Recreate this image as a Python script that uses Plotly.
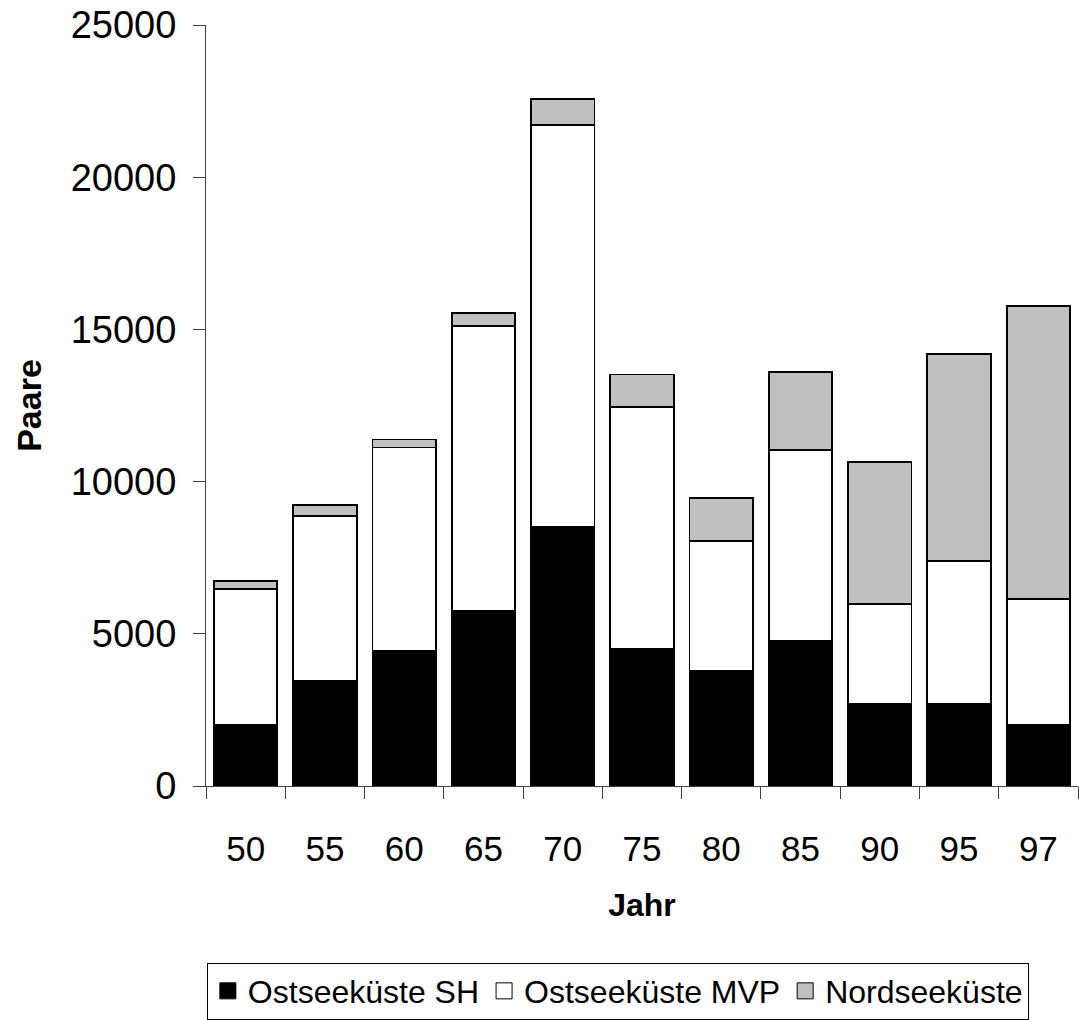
import plotly.graph_objects as go

years = ["50", "55", "60", "65", "70", "75", "80", "85", "90", "95", "97"]
ostsee_sh = [2000, 3450, 4430, 5760, 8510, 4520, 3780, 4760, 2690, 2690, 2010]
ostsee_mvp = [4470, 5420, 6690, 9350, 13210, 7930, 4280, 6280, 3280, 4700, 4130]
nordsee = [260, 350, 260, 430, 850, 1070, 1400, 2570, 4670, 6800, 9630]

series_names = ["Ostseeküste SH", "Ostseeküste MVP", "Nordseeküste"]
series_colors = ["#000000", "#FFFFFF", "#C0C0C0"]
series_values = [ostsee_sh, ostsee_mvp, nordsee]

FONT = "Liberation Sans, Arial, sans-serif"

fig = go.Figure()
for name, color, vals in zip(series_names, series_colors, series_values):
    fig.add_trace(go.Bar(
        x=years, y=vals, name=name, showlegend=False,
        marker=dict(color=color, line=dict(color="#000000", width=1.8)),
    ))
for name, color in zip(series_names, series_colors):
    fig.add_trace(go.Scatter(
        x=[None], y=[None], mode="markers", name=name,
        marker=dict(symbol="square", size=16, color=color,
                    line=dict(color="#000000", width=1)),
    ))

fig.update_layout(
    width=1079, height=1020,
    barmode="stack", bargap=0.2,
    paper_bgcolor="white", plot_bgcolor="white",
    margin=dict(l=206, r=1, t=25, b=232),
    font=dict(family=FONT, color="#000000"),
    showlegend=True,
    legend=dict(
        orientation="h", x=0.001, xanchor="left", y=-0.232, yanchor="top",
        bordercolor="#000000", borderwidth=1, traceorder="normal",
        font=dict(size=32, family=FONT),
        itemsizing="trace", tracegroupgap=0,
    ),
    xaxis=dict(
        type="category", tickson="boundaries", ticks="outside", ticklen=12,
        tickcolor="#404040", showline=True, linecolor="#404040", linewidth=1,
        tickfont=dict(size=35), showgrid=False, ticklabelstandoff=32,
        title=dict(text="<b>Jahr</b>", font=dict(size=32), standoff=26),
    ),
    yaxis=dict(
        range=[0, 25000], tickvals=[0, 5000, 10000, 15000, 20000, 25000],
        ticks="outside", ticklen=12, tickcolor="#404040",
        showline=True, linecolor="#404040", linewidth=1,
        tickfont=dict(size=38), showgrid=False, ticklabelstandoff=9,
        zeroline=False, tickformat="d",
        title=dict(text="<b>Paare</b>", font=dict(size=34), standoff=18),
    ),
)

fig.write_html("out.html")
